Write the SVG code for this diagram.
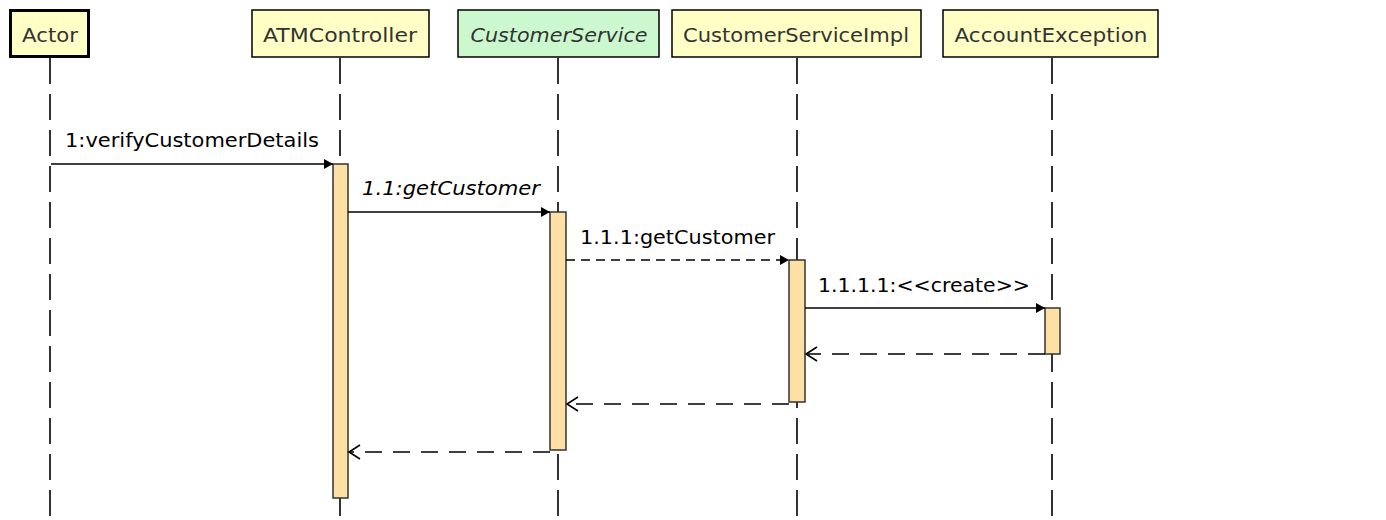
<svg xmlns="http://www.w3.org/2000/svg" width="1386" height="520" viewBox="0 0 1386 520">
<style>
.hdr{stroke:#000;stroke-width:1.5}
.yel{fill:#FFFFC6}
.grn{fill:#CCF8D0}
.ht{font-family:"DejaVu Sans",sans-serif;font-size:20px;fill:#333;text-anchor:middle}
.life{stroke:#000;stroke-width:1.6;stroke-dasharray:26 10;fill:none}
.bar{fill:#FFE0A4;stroke:#333;stroke-width:1.5}
.msg{stroke:#000;stroke-width:1.6;fill:none}
.call2{stroke-dasharray:9 6}
.ret{stroke-dasharray:17 11}
.lbl{font-family:"DejaVu Sans",sans-serif;font-size:19px;fill:#000}
</style>
<defs>
<marker id="fill" markerWidth="10" markerHeight="10" refX="9" refY="5" orient="auto" markerUnits="userSpaceOnUse">
<path d="M0,0 L9,5 L0,10 Z" fill="#000"/>
</marker>
<marker id="open" markerWidth="14" markerHeight="16" refX="12" refY="8" orient="auto" markerUnits="userSpaceOnUse">
<path d="M1,1 L12,8 L1,15" fill="none" stroke="#000" stroke-width="1.6"/>
</marker>
</defs>
<rect width="1386" height="520" fill="#fff"/>
<g id="lifelines">
<line class="life" x1="50" y1="58" x2="50" y2="516"/>
<line class="life" x1="340" y1="58" x2="340" y2="516"/>
<line class="life" x1="558" y1="58" x2="558" y2="516"/>
<line class="life" x1="797" y1="58" x2="797" y2="516"/>
<line class="life" x1="1052" y1="58" x2="1052" y2="516"/>
</g>
<g id="Actor">
<rect x="10.5" y="10.5" width="78" height="46" class="yel" stroke="#000" stroke-width="3"/>
<text class="ht" x="50" y="42" textLength="56" lengthAdjust="spacingAndGlyphs">Actor</text>
</g>
<g id="ATMController">
<rect x="252" y="10" width="177" height="47" class="yel hdr"/>
<text class="ht" x="340" y="42" textLength="154" lengthAdjust="spacingAndGlyphs">ATMController</text>
<rect x="333" y="164" width="15" height="334" class="bar"/>
</g>
<g id="CustomerService">
<rect x="458" y="10" width="201" height="47" class="grn hdr"/>
<text class="ht" x="559" y="42" font-style="italic" textLength="177" lengthAdjust="spacingAndGlyphs">CustomerService</text>
<rect x="550" y="212" width="16" height="238" class="bar"/>
</g>
<g id="CustomerServiceImpl">
<rect x="672" y="10" width="249" height="47" class="yel hdr"/>
<text class="ht" x="796" y="42" textLength="226" lengthAdjust="spacingAndGlyphs">CustomerServiceImpl</text>
<rect x="789" y="260" width="16" height="142" class="bar"/>
</g>
<g id="AccountException">
<rect x="943" y="10" width="215" height="47" class="yel hdr"/>
<text class="ht" x="1051" y="42" textLength="193" lengthAdjust="spacingAndGlyphs">AccountException</text>
<rect x="1045" y="308" width="15" height="46" class="bar"/>
</g>
<g id="connectors">
<line class="msg" x1="51" y1="164" x2="333" y2="164" marker-end="url(#fill)"/>
<line class="msg" x1="348" y1="212" x2="550" y2="212" marker-end="url(#fill)"/>
<line class="msg call2" x1="566" y1="260" x2="789" y2="260" marker-end="url(#fill)"/>
<line class="msg" x1="805" y1="308" x2="1045" y2="308" marker-end="url(#fill)"/>
<line class="msg ret" x1="1045" y1="354" x2="806" y2="354" marker-end="url(#open)"/>
<line class="msg ret" x1="789" y1="404" x2="567" y2="404" marker-end="url(#open)"/>
<line class="msg ret" x1="550" y1="452" x2="349" y2="452" marker-end="url(#open)"/>
</g>
<g id="labels">
<text class="lbl" x="65" y="147" textLength="254" lengthAdjust="spacingAndGlyphs">1:verifyCustomerDetails</text>
<text class="lbl" x="362" y="195" font-style="italic" textLength="178" lengthAdjust="spacingAndGlyphs">1.1:getCustomer</text>
<text class="lbl" x="580" y="244" textLength="195" lengthAdjust="spacingAndGlyphs">1.1.1:getCustomer</text>
<text class="lbl" x="818" y="292" textLength="212" lengthAdjust="spacingAndGlyphs">1.1.1.1:&lt;&lt;create&gt;&gt;</text>
</g>
</svg>
